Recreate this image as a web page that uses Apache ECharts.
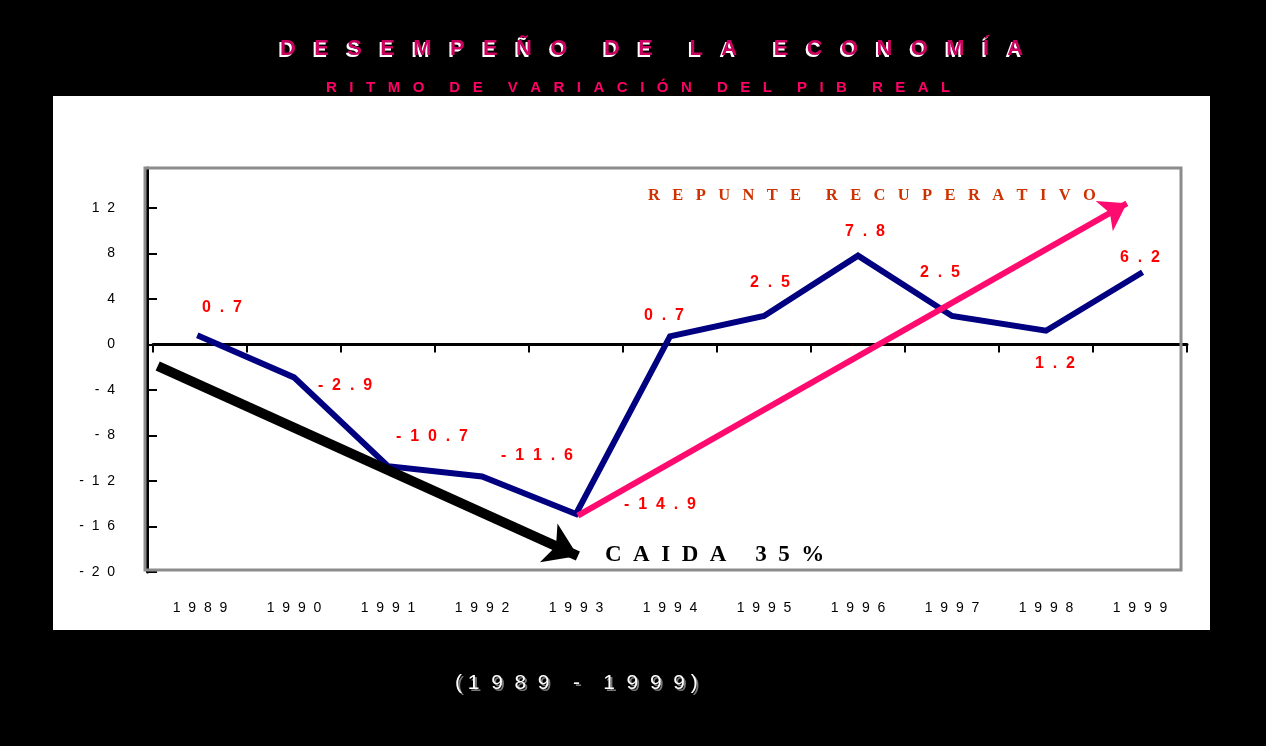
<!DOCTYPE html>
<html>
<head>
<meta charset="utf-8">
<title>Desempeño de la economía</title>
<script src="https://cdn.jsdelivr.net/npm/echarts@6/dist/echarts.min.js"></script>
<style>
  html, body { margin: 0; padding: 0; background: #000; }
  #chart { width: 1266px; height: 746px; }
</style>
</head>
<body>
<div id="chart"></div>
<script>
// datos
const years = ['1989', '1990', '1991', '1992', '1993', '1994', '1995', '1996', '1997', '1998', '1999'];
const growth = [0.7, -2.9, -10.7, -11.6, -14.9, 0.7, 2.5, 7.8, 2.5, 1.2, 6.2];
// flechas en unidades de datos: [indice de año, %]
const fallArrow = [[-0.45, -1.9], [4.02, -18.6]];
const recoveryArrow = [[4.02, -15.05], [9.86, 12.4]];

// desplazamiento de cada etiqueta respecto a su punto (px)
const labelOffsets = [[22, -29], [51, 8], [44, -30], [55, -21], [84, -9], [-6, -21],
  [6, -33], [7, -24], [-12, -43], [9, 33], [0, -16]];

const SANS = 'Liberation Sans, Arial, sans-serif';
const SERIF = 'Liberation Serif, Times New Roman, serif';

function spaced(text, gap, wordGap) {
  return text.split(' ')
    .map(w => Array.from(w).join(' '.repeat(gap)))
    .join(' '.repeat(wordGap || gap * 2));
}

const mainTitle = spaced('DESEMPEÑO DE LA ECONOMÍA', 3, 6);
const subTitle = spaced('RITMO DE VARIACIÓN DEL PIB REAL', 3, 6);
const period = '( ' + spaced('1989', 2) + '    -    ' + spaced('1999', 2) + ' )';

function titleStyle(color, size, weight) {
  return { color: color, fontFamily: SANS, fontWeight: weight, fontSize: size };
}

const chart = echarts.init(document.getElementById('chart'));

const option = {
  backgroundColor: '#000',
  animation: false,
  title: [
    // sombra blanca del titulo
    { text: mainTitle, left: 273, top: 35, textStyle: titleStyle('#fff', 22, 'bold') },
    { text: mainTitle, left: 275, top: 33, textStyle: titleStyle('#CC0060', 22, 'bold') },
    { text: subTitle, left: 321, top: 75, textStyle: titleStyle('#FF0066', 15, 'bold') },
    // sombra gris del periodo
    { text: period, left: 452, top: 670, textStyle: titleStyle('#777', 21, 'normal') },
    { text: period, left: 450, top: 668, textStyle: titleStyle('#fff', 21, 'normal') }
  ],
  graphic: [{
    type: 'rect',
    z: -10,
    silent: true,
    shape: { x: 53, y: 96, width: 1157, height: 534 },
    style: { fill: '#fff' }
  }, {
    type: 'rect',
    z: 1,
    silent: true,
    shape: { x: 145, y: 168, width: 1036, height: 402 },
    style: { fill: 'none', stroke: '#8c8c8c', lineWidth: 3 }
  }, {
    type: 'text',
    z: 10,
    silent: true,
    style: {
      x: 648, y: 196,
      text: spaced('REPUNTE RECUPERATIVO', 3, 6),
      fill: '#CC3300',
      font: 'bold 16.5px ' + SERIF,
      verticalAlign: 'middle'
    }
  }, {
    type: 'text',
    z: 10,
    silent: true,
    style: {
      x: 605, y: 555,
      text: spaced('CAIDA 35%', 2, 5),
      fill: '#000',
      font: 'bold 23px ' + SERIF,
      verticalAlign: 'middle'
    }
  }],
  grid: {
    left: 153,
    right: 79,
    top: 168,
    bottom: 174
  },
  xAxis: [{
    type: 'category',
    data: years,
    boundaryGap: true,
    position: 'bottom',
    axisLine: { onZero: true, lineStyle: { color: '#000', width: 3 } },
    axisTick: { show: true, length: 8, lineStyle: { color: '#000', width: 2 } },
    axisLabel: { show: false },
    splitLine: { show: false }
  }, {
    type: 'category',
    data: years,
    boundaryGap: true,
    position: 'bottom',
    axisLine: { show: false, onZero: false },
    axisTick: { show: false },
    axisLabel: {
      margin: 29,
      color: '#000',
      fontFamily: SANS,
      fontSize: 14,
      formatter: v => spaced(v, 2)
    },
    splitLine: { show: false }
  }, {
    type: 'value',
    min: -0.5,
    max: 10.5,
    show: false
  }],
  yAxis: [{
    type: 'value',
    min: -20,
    max: 15.5,
    interval: 4,
    offset: 6,
    axisLine: { show: true, onZero: false, lineStyle: { color: '#000', width: 3 } },
    axisTick: { show: true, inside: true, length: 10, lineStyle: { color: '#000', width: 2 } },
    axisLabel: {
      margin: 32,
      color: '#000',
      fontFamily: SANS,
      fontSize: 14,
      showMaxLabel: false,
      formatter: v => (v % 4 === 0 ? spaced(String(v), 2) : '')
    },
    splitLine: { show: false }
  }],
  series: [{
    name: 'PIB real',
    type: 'line',
    xAxisIndex: 0,
    yAxisIndex: 0,
    z: 3,
    symbol: 'circle',
    symbolSize: 1,
    itemStyle: { color: '#000080' },
    lineStyle: { color: '#000080', width: 6, cap: 'square', join: 'miter' },
    data: growth.map((v, i) => ({
      value: v,
      label: { offset: labelOffsets[i] }
    })),
    label: {
      show: true,
      position: 'inside',
      color: '#FF0000',
      fontFamily: SANS,
      fontWeight: 'bold',
      fontSize: 16,
      formatter: p => spaced(String(p.value), 2)
    }
  }, {
    name: 'Caida',
    type: 'line',
    xAxisIndex: 2,
    yAxisIndex: 0,
    z: 4,
    symbol: 'none',
    lineStyle: { opacity: 0 },
    data: fallArrow,
    markLine: {
      silent: true,
      symbol: ['none', 'arrow'],
      symbolSize: 32,
      label: { show: false },
      lineStyle: { color: '#000', width: 10, type: 'solid' },
      data: [[{ coord: fallArrow[0] }, { coord: fallArrow[1] }]]
    }
  }, {
    name: 'Repunte',
    type: 'line',
    xAxisIndex: 2,
    yAxisIndex: 0,
    z: 4,
    symbol: 'none',
    lineStyle: { opacity: 0 },
    data: recoveryArrow,
    markLine: {
      silent: true,
      symbol: ['none', 'arrow'],
      symbolSize: 26,
      label: { show: false },
      lineStyle: { color: '#FF0A6E', width: 6, type: 'solid' },
      data: [[{ coord: recoveryArrow[0] }, { coord: recoveryArrow[1] }]]
    }
  }]
};

chart.setOption(option);
</script>
</body>
</html>
